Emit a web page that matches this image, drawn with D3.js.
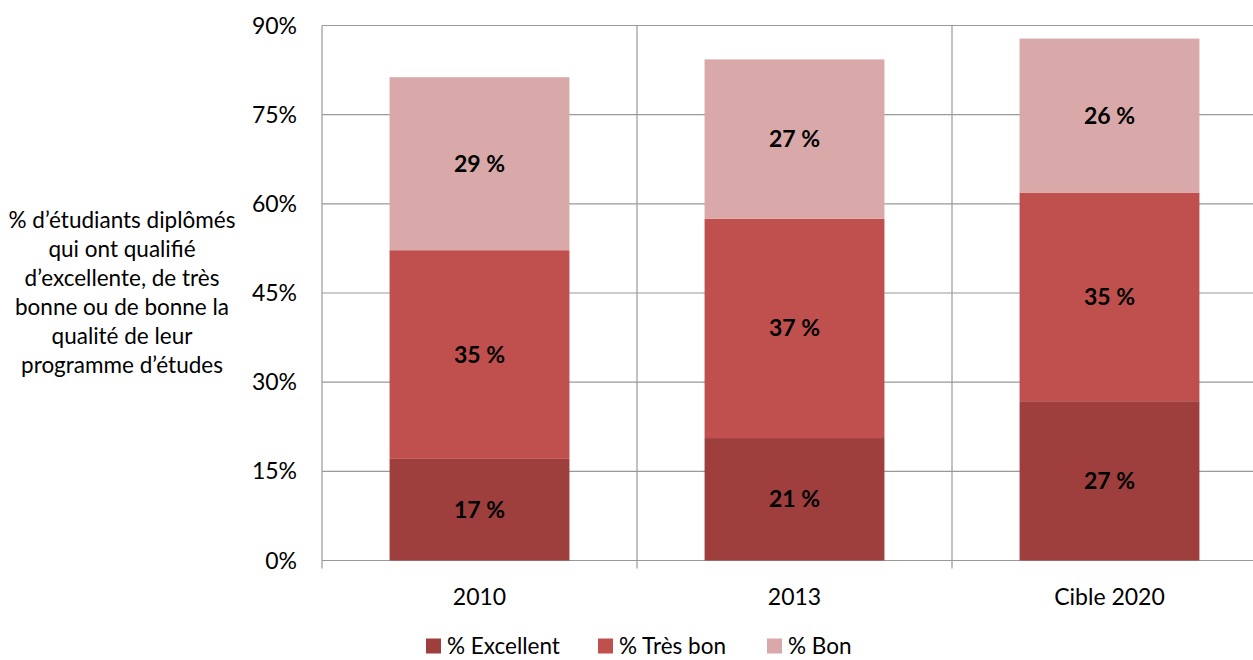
<!DOCTYPE html>
<html>
<head>
<meta charset="utf-8">
<script src="https://cdn.jsdelivr.net/npm/d3@7"></script>
<style>
  body { margin: 0; background: #fff; }
  svg { font-family: Lato, "Open Sans", sans-serif; }
</style>
</head>
<body>
<div id="canvas"></div>
<script>
// data
var categories = ['2010', '2013', 'Cible 2020'];
var excellent = [17.1, 20.6, 26.8];
var tresBon = [35.1, 36.9, 35.1];
var bon = [29.1, 26.8, 25.9];
var seriesNames = ['% Excellent', '% Très bon', '% Bon'];
var yTicks = [0, 15, 30, 45, 60, 75, 90];
var titleLines = ['% d\u2019étudiants diplômés', 'qui ont qualifié', 'd\u2019excellente, de très',
                  'bonne ou de bonne la', 'qualité de leur', 'programme d\u2019études'];

var colors = ['#9e3f3e', '#c0504d', '#d9a9a9'];

var W = 1253, H = 660;
var margin = {t: 25.5, l: 322, b: 99.5};

var svg = d3.select('#canvas').append('svg')
    .attr('width', W).attr('height', H);

var x = d3.scaleBand().domain(categories).range([322, 1267]).paddingInner(0).paddingOuter(0);
var y = d3.scaleLinear().domain([0, 90]).range([H - margin.b, margin.t]);

var rows = categories.map(function(c, i){
    return {cat: c, excellent: excellent[i], tresBon: tresBon[i], bon: bon[i]};
});
var stack = d3.stack().keys(['excellent', 'tresBon', 'bon'])(rows);

// gridlines
svg.append('g').selectAll('line.h').data(yTicks).enter().append('line')
    .attr('x1', 322).attr('x2', W)
    .attr('y1', function(d){ return y(d); }).attr('y2', function(d){ return y(d); })
    .attr('stroke', '#999').attr('stroke-width', 1.2);

var bounds = [x('2010'), x('2013'), x('Cible 2020'), x('Cible 2020') + x.bandwidth()];
svg.append('g').selectAll('line.v').data(bounds).enter().append('line')
    .attr('x1', function(d){ return d; }).attr('x2', function(d){ return d; })
    .attr('y1', y(90)).attr('y2', y(0) + 8)
    .attr('stroke', '#999').attr('stroke-width', 1.2);

// y tick labels
svg.append('g').selectAll('text').data(yTicks).enter().append('text')
    .attr('x', 297).attr('y', function(d){ return y(d); })
    .attr('dy', '0.35em').attr('text-anchor', 'end')
    .style('font-size', '23px').attr('fill', '#000')
    .text(function(d){ return d + '%'; });

// bars
var barW = x.bandwidth() * 0.571;
stack.forEach(function(layer, li){
    var g = svg.append('g');
    g.selectAll('rect').data(layer).enter().append('rect')
        .attr('x', function(d){ return x(d.data.cat) + (x.bandwidth() - barW) / 2; })
        .attr('width', barW)
        .attr('y', function(d){ return y(d[1]); })
        .attr('height', function(d){ return y(d[0]) - y(d[1]); })
        .attr('fill', colors[li]);
    g.selectAll('text').data(layer).enter().append('text')
        .attr('x', function(d){ return x(d.data.cat) + x.bandwidth() / 2; })
        .attr('y', function(d){ return y((d[0] + d[1]) / 2); })
        .attr('dy', '0.35em').attr('text-anchor', 'middle')
        .style('font-size', '23px').style('font-weight', 'bold')
        .text(function(d){ return Math.round(d[1] - d[0]) + ' %'; });
});

// category labels
svg.append('g').selectAll('text').data(categories).enter().append('text')
    .attr('x', function(d){ return x(d) + x.bandwidth() / 2; })
    .attr('y', 597).attr('dy', '0.35em').attr('text-anchor', 'middle')
    .style('font-size', '23px')
    .text(function(d){ return d; });

// y title
svg.append('g').selectAll('text').data(titleLines).enter().append('text')
    .attr('x', 122).attr('y', function(d, i){ return 220 + i * 29; })
    .attr('dy', '0.35em').attr('text-anchor', 'middle')
    .style('font-size', '22.5px')
    .text(function(d){ return d; });

// legend
var legX = [426, 598, 767];
var leg = svg.append('g').selectAll('g').data(seriesNames).enter().append('g')
    .attr('transform', function(d, i){ return 'translate(' + legX[i] + ',646)'; });
leg.append('rect').attr('x', 0).attr('y', -7.5).attr('width', 15).attr('height', 15)
    .attr('fill', function(d, i){ return colors[i]; });
leg.append('text').attr('x', 21).attr('dy', '0.35em')
    .style('font-size', '22.5px')
    .text(function(d){ return d; });
</script>
</body>
</html>
